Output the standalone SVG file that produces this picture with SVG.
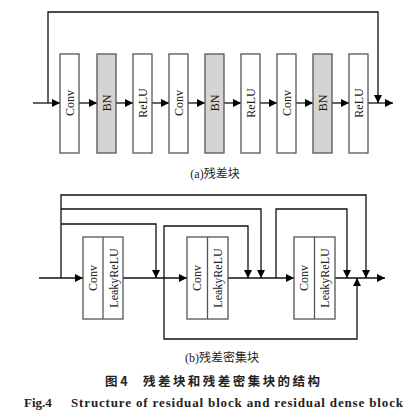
<svg xmlns="http://www.w3.org/2000/svg" width="417" height="417" viewBox="0 0 417 417">
<defs>
<marker id="ah" markerUnits="userSpaceOnUse" markerWidth="9" markerHeight="8" refX="8" refY="4" orient="auto">
<path d="M0,0 L8,4 L0,8 Z" fill="#000"/>
</marker>
<style>
.ln{fill:none;stroke:#111;stroke-width:1.3}
.bx{fill:#fff;stroke:#555;stroke-width:1.3}
.bn{fill:#d4d4d4;stroke:#555;stroke-width:1.3}
.lb{font-family:"Liberation Serif","Noto Sans CJK SC",serif;font-size:12px;fill:#222}
.cap{font-family:"Liberation Serif","Noto Sans CJK SC",serif;font-size:12px;fill:#222}
.cn{font-family:"Noto Sans CJK SC",sans-serif;font-size:12.5px;fill:#222;font-weight:bold}
.en{font-family:"Liberation Serif",serif;font-size:13px;font-weight:bold;fill:#222}
</style>
</defs>
<rect width="417" height="417" fill="#fff"/>

<g id="connectors-a">
<path class="ln" marker-end="url(#ah)" d="M33,103 H60"/>
<path class="ln" marker-end="url(#ah)" d="M79,103 H97"/>
<path class="ln" marker-end="url(#ah)" d="M115,103 H133"/>
<path class="ln" marker-end="url(#ah)" d="M151,103 H169"/>
<path class="ln" marker-end="url(#ah)" d="M187,103 H205"/>
<path class="ln" marker-end="url(#ah)" d="M223,103 H241"/>
<path class="ln" marker-end="url(#ah)" d="M259,103 H277"/>
<path class="ln" marker-end="url(#ah)" d="M295,103 H313"/>
<path class="ln" marker-end="url(#ah)" d="M331,103 H349"/>
<path class="ln" marker-end="url(#ah)" d="M367,103 H393"/>
<path class="ln" marker-end="url(#ah)" d="M48,103 V12 H378 V103"/>
</g>

<g id="a-conv1"><rect class="bx" x="60" y="54" width="19" height="99"/><text class="lb" transform="translate(69.5,103) rotate(-90)" text-anchor="middle" dominant-baseline="central">Conv</text></g>
<g id="a-bn1"><rect class="bn" x="97" y="54" width="19" height="99"/><text class="lb" transform="translate(106.5,103) rotate(-90)" text-anchor="middle" dominant-baseline="central">BN</text></g>
<g id="a-relu1"><rect class="bx" x="133" y="54" width="19" height="99"/><text class="lb" transform="translate(142.5,103) rotate(-90)" text-anchor="middle" dominant-baseline="central">ReLU</text></g>
<g id="a-conv2"><rect class="bx" x="169" y="54" width="19" height="99"/><text class="lb" transform="translate(178.5,103) rotate(-90)" text-anchor="middle" dominant-baseline="central">Conv</text></g>
<g id="a-bn2"><rect class="bn" x="205" y="54" width="19" height="99"/><text class="lb" transform="translate(214.5,103) rotate(-90)" text-anchor="middle" dominant-baseline="central">BN</text></g>
<g id="a-relu2"><rect class="bx" x="241" y="54" width="19" height="99"/><text class="lb" transform="translate(250.5,103) rotate(-90)" text-anchor="middle" dominant-baseline="central">ReLU</text></g>
<g id="a-conv3"><rect class="bx" x="277" y="54" width="19" height="99"/><text class="lb" transform="translate(286.5,103) rotate(-90)" text-anchor="middle" dominant-baseline="central">Conv</text></g>
<g id="a-bn3"><rect class="bn" x="313" y="54" width="19" height="99"/><text class="lb" transform="translate(322.5,103) rotate(-90)" text-anchor="middle" dominant-baseline="central">BN</text></g>
<g id="a-relu3"><rect class="bx" x="349" y="54" width="19" height="99"/><text class="lb" transform="translate(358.5,103) rotate(-90)" text-anchor="middle" dominant-baseline="central">ReLU</text></g>

<text class="cap" x="215" y="178" text-anchor="middle">(a)残差块</text>

<g id="connectors-b">
<path class="ln" marker-end="url(#ah)" d="M39,278 H83"/>
<path class="ln" marker-end="url(#ah)" d="M123,278 H187"/>
<path class="ln" marker-end="url(#ah)" d="M228,278 H294"/>
<path class="ln" marker-end="url(#ah)" d="M335,278 H385"/>
<path class="ln" marker-end="url(#ah)" d="M61,278 V195 H366 V278"/>
<path class="ln" marker-end="url(#ah)" d="M61,209 H261 V278"/>
<path class="ln" marker-end="url(#ah)" d="M61,224 H156 V278"/>
<path class="ln" marker-end="url(#ah)" d="M164,278 V226 H248 V278"/>
<path class="ln" marker-end="url(#ah)" d="M164,278 V339 H357 V278"/>
<path class="ln" marker-end="url(#ah)" d="M276,278 V209 H347 V278"/>
</g>

<g id="b-block1"><rect class="bx" x="83" y="237" width="40" height="82"/><line class="bx" x1="103" y1="237" x2="103" y2="319"/>
<text class="lb" transform="translate(93,278) rotate(-90)" text-anchor="middle" dominant-baseline="central">Conv</text>
<text class="lb" transform="translate(113.5,278) rotate(-90)" text-anchor="middle" dominant-baseline="central">LeakyReLU</text></g>
<g id="b-block2"><rect class="bx" x="187" y="237" width="41" height="82"/><line class="bx" x1="207.5" y1="237" x2="207.5" y2="319"/>
<text class="lb" transform="translate(197,278) rotate(-90)" text-anchor="middle" dominant-baseline="central">Conv</text>
<text class="lb" transform="translate(218,278) rotate(-90)" text-anchor="middle" dominant-baseline="central">LeakyReLU</text></g>
<g id="b-block3"><rect class="bx" x="294" y="237" width="41" height="82"/><line class="bx" x1="314.5" y1="237" x2="314.5" y2="319"/>
<text class="lb" transform="translate(304,278) rotate(-90)" text-anchor="middle" dominant-baseline="central">Conv</text>
<text class="lb" transform="translate(325,278) rotate(-90)" text-anchor="middle" dominant-baseline="central">LeakyReLU</text></g>

<text class="cap" x="222" y="362" text-anchor="middle">(b)残差密集块</text>
<text class="cn" x="105" y="386">图 4</text>
<text class="cn" x="143" y="386" textLength="177" lengthAdjust="spacing">残差块和残差密集块的结构</text>
<text class="en" x="24" y="407">Fig.4</text>
<text class="en" x="71" y="407" textLength="332" lengthAdjust="spacing">Structure of residual block and residual dense block</text>
</svg>
